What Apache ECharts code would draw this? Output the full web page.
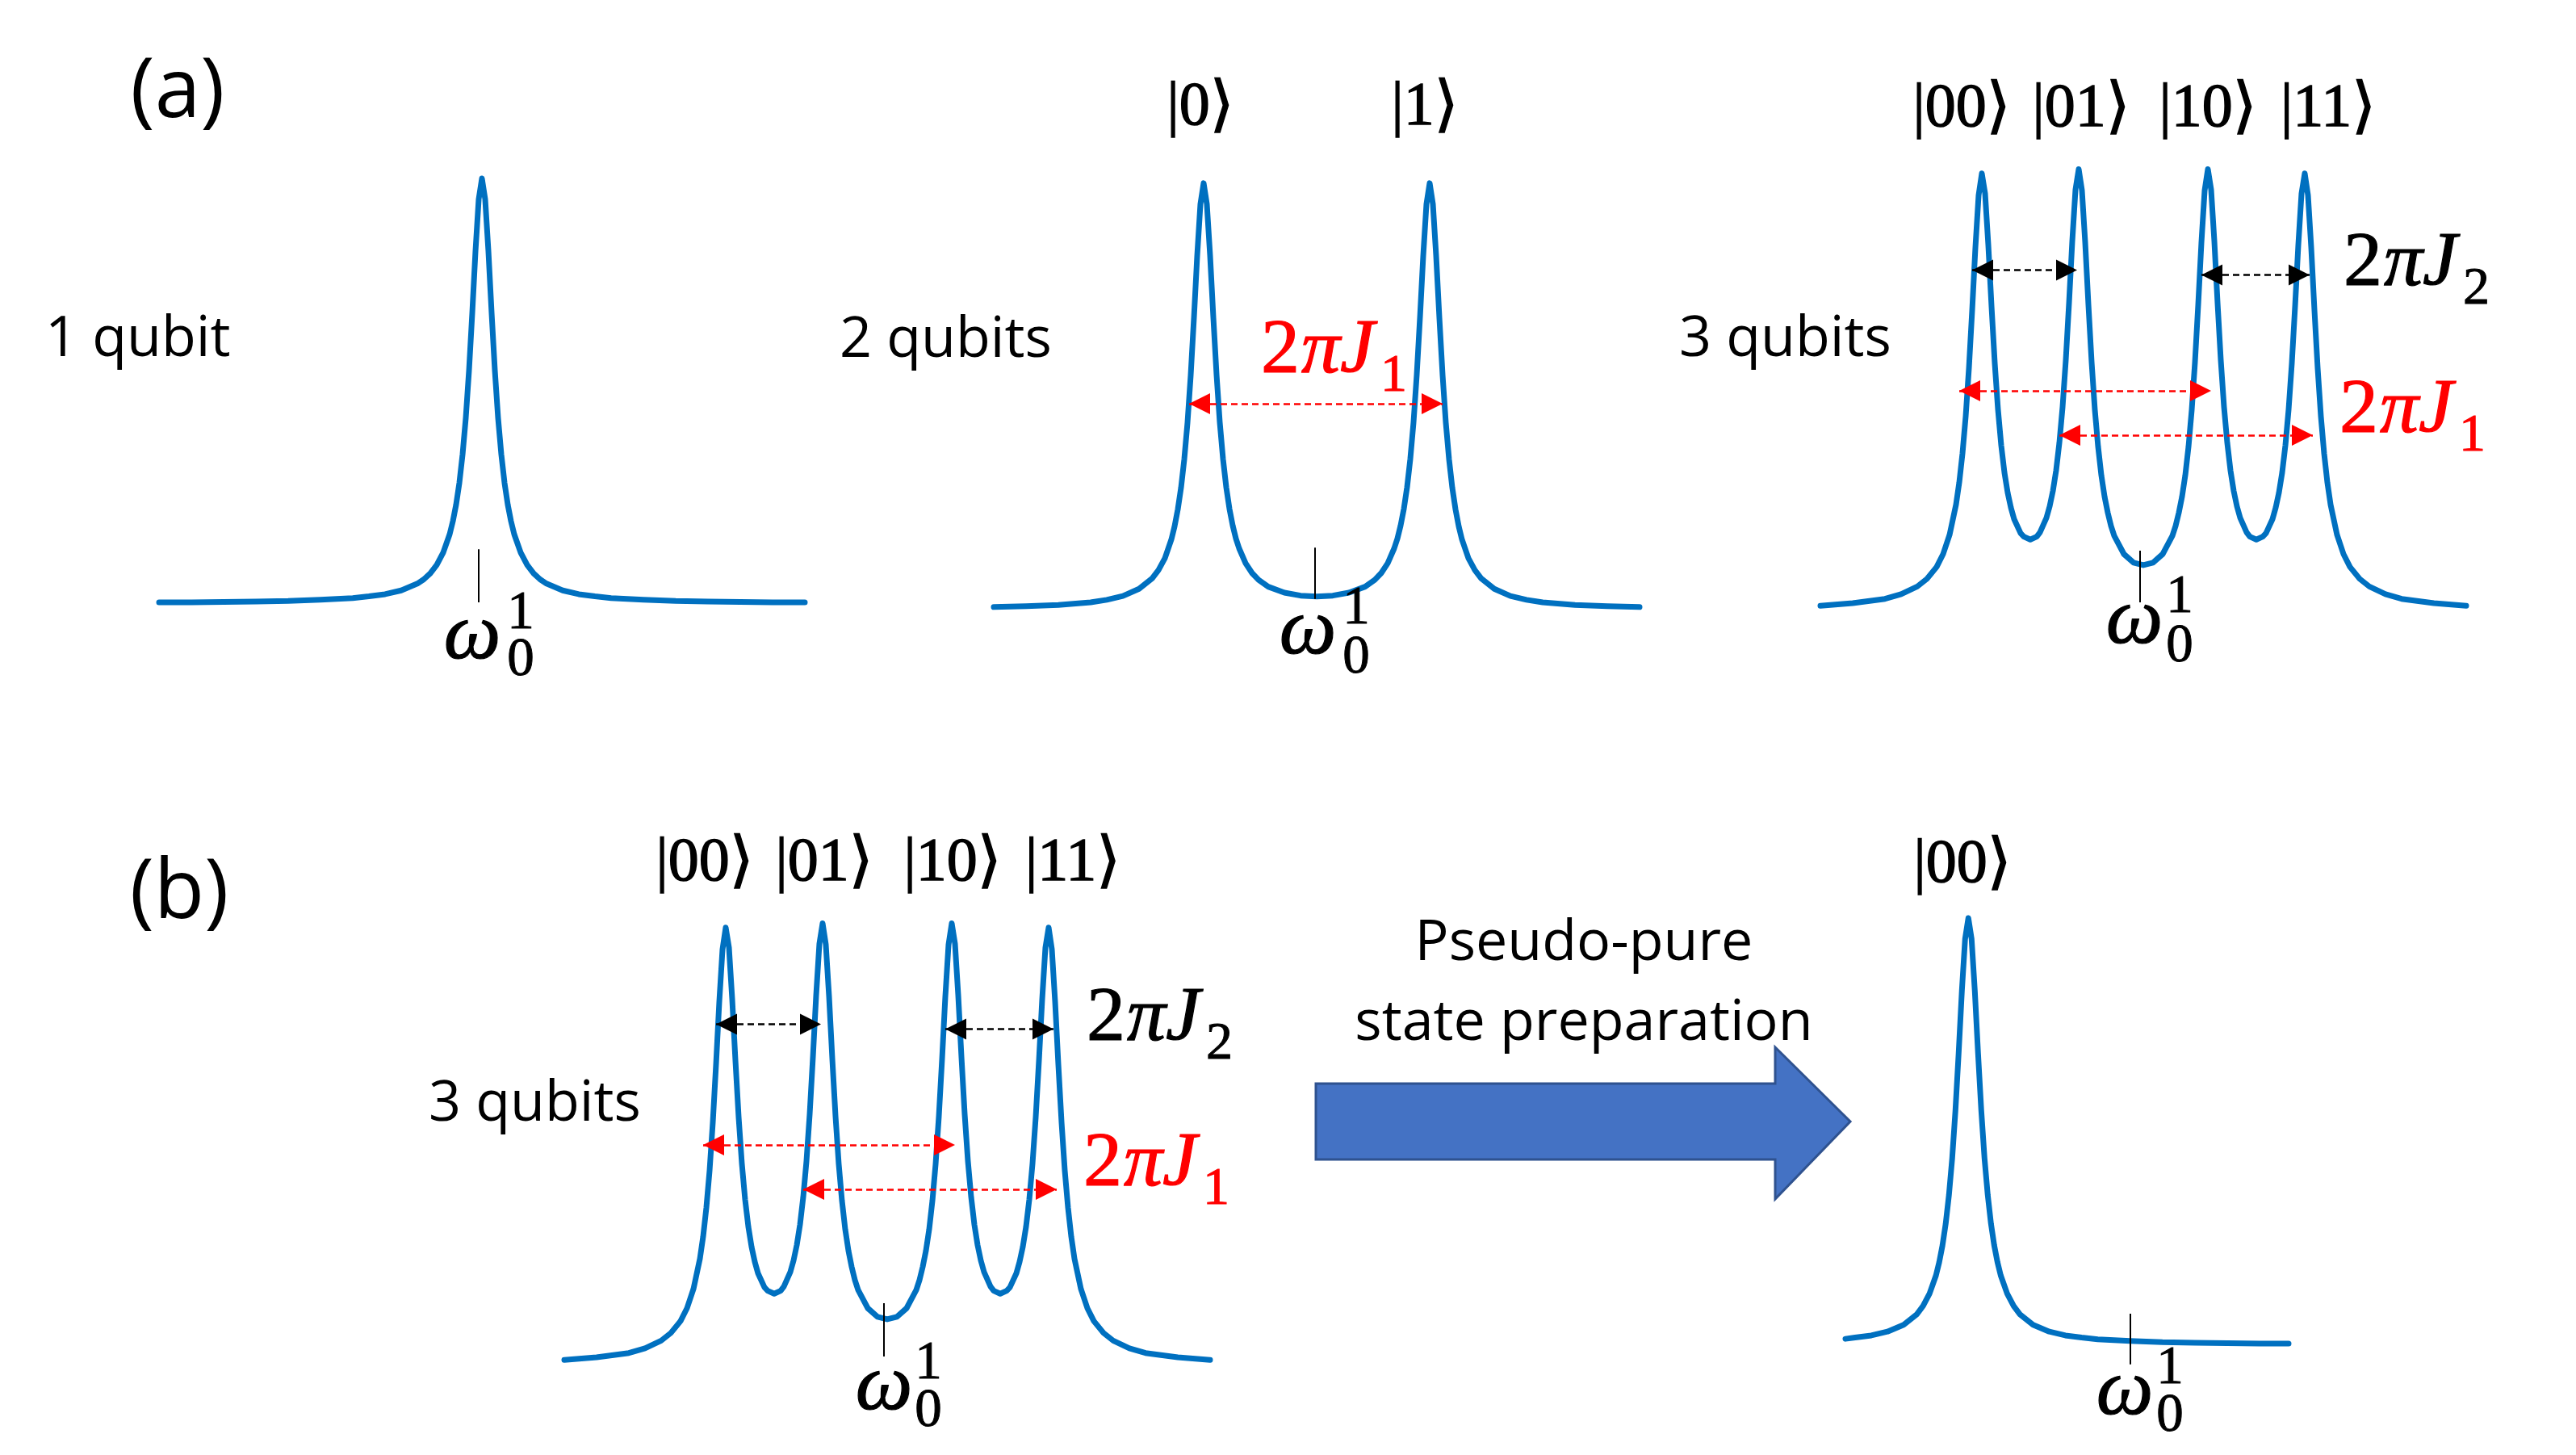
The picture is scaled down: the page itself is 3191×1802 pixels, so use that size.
<!DOCTYPE html>
<html><head><meta charset="utf-8">
<script src="https://cdn.jsdelivr.net/npm/echarts@6/dist/echarts.min.js"></script>
<style>html,body{margin:0;padding:0;background:#fff}#c{width:3191px;height:1802px}</style>
</head><body><div id="c"></div>
<script>
// ---------- data (frequency offset from omega_0, relative intensity) ----------
const oneQubit = [[-100,0.002],[-90,0.002],[-80,0.003],[-70,0.004],[-60,0.005],[-50,0.008],[-40,0.012],[-35,0.016],[-30,0.021],[-25,0.030],[-20,0.046],[-18,0.056],[-16,0.070],[-14,0.090],[-12,0.119],[-10,0.162],[-9,0.193],[-8,0.232],[-7,0.283],[-6,0.350],[-5,0.436],[-4,0.548],[-3,0.683],[-2,0.829],[-1,0.951],[0,1.000],[1,0.951],[2,0.829],[3,0.683],[4,0.548],[5,0.436],[6,0.350],[7,0.283],[8,0.232],[9,0.193],[10,0.162],[12,0.119],[14,0.090],[16,0.070],[18,0.056],[20,0.046],[25,0.030],[30,0.021],[35,0.016],[40,0.012],[50,0.008],[60,0.005],[70,0.004],[80,0.003],[90,0.002],[100,0.002]];

const twoQubits = [[-100,0.006],[-90,0.008],[-80,0.011],[-70,0.017],[-65,0.023],[-60,0.032],[-55,0.049],[-51,0.073],[-49,0.093],[-47,0.121],[-45,0.165],[-44,0.196],[-43,0.236],[-42,0.287],[-41,0.354],[-40,0.440],[-39,0.552],[-38,0.687],[-37,0.833],[-36,0.955],[-35,1.004],[-34,0.955],[-33,0.833],[-32,0.688],[-31,0.553],[-30,0.441],[-29,0.355],[-28,0.288],[-27,0.237],[-26,0.198],[-25,0.167],[-24,0.144],[-22,0.109],[-20,0.086],[-18,0.070],[-15,0.054],[-10,0.040],[-5,0.033],[0,0.031],[5,0.033],[10,0.040],[15,0.054],[18,0.070],[20,0.086],[22,0.109],[24,0.144],[25,0.167],[26,0.198],[27,0.237],[28,0.288],[29,0.355],[30,0.441],[31,0.553],[32,0.688],[33,0.833],[34,0.955],[35,1.004],[36,0.955],[37,0.833],[38,0.687],[39,0.552],[40,0.440],[41,0.354],[42,0.287],[43,0.236],[44,0.196],[45,0.165],[47,0.121],[49,0.093],[51,0.073],[55,0.049],[60,0.032],[65,0.023],[70,0.017],[80,0.011],[90,0.008],[100,0.006]];

const threeQubits = [[-100,0.013],[-90,0.019],[-80,0.029],[-75,0.040],[-70,0.058],[-67,0.076],[-64,0.104],[-62,0.134],[-60,0.179],[-58,0.250],[-57,0.302],[-56,0.370],[-55,0.457],[-54,0.570],[-53,0.706],[-52,0.853],[-51,0.976],[-50,1.027],[-49,0.980],[-48,0.859],[-47,0.715],[-46,0.582],[-45,0.473],[-44,0.389],[-43,0.325],[-42,0.278],[-41,0.243],[-40,0.216],[-38,0.183],[-37,0.175],[-35,0.168],[-33,0.175],[-32,0.185],[-30,0.219],[-29,0.246],[-28,0.282],[-27,0.330],[-26,0.395],[-25,0.479],[-24,0.589],[-23,0.723],[-22,0.868],[-21,0.989],[-20,1.037],[-19,0.987],[-18,0.865],[-17,0.719],[-16,0.584],[-15,0.472],[-14,0.386],[-13,0.319],[-12,0.269],[-11,0.231],[-10,0.200],[-9,0.177],[-6,0.134],[-3,0.114],[0,0.108],[3,0.114],[6,0.134],[9,0.177],[10,0.200],[11,0.231],[12,0.269],[13,0.319],[14,0.386],[15,0.472],[16,0.584],[17,0.719],[18,0.865],[19,0.987],[20,1.037],[21,0.989],[22,0.868],[23,0.723],[24,0.589],[25,0.479],[26,0.395],[27,0.330],[28,0.282],[29,0.246],[30,0.219],[32,0.185],[33,0.175],[35,0.168],[37,0.175],[38,0.183],[40,0.216],[41,0.243],[42,0.278],[43,0.325],[44,0.389],[45,0.473],[46,0.582],[47,0.715],[48,0.859],[49,0.980],[50,1.027],[51,0.976],[52,0.853],[53,0.706],[54,0.570],[55,0.457],[56,0.370],[57,0.302],[58,0.250],[60,0.179],[62,0.134],[64,0.104],[67,0.076],[70,0.058],[75,0.040],[80,0.029],[90,0.019],[100,0.013]];

const pseudoPure = [[-88,0.013],[-85,0.016],[-80,0.021],[-75,0.030],[-70,0.046],[-66,0.070],[-64,0.090],[-62,0.119],[-60,0.162],[-59,0.193],[-58,0.232],[-57,0.283],[-56,0.350],[-55,0.436],[-54,0.548],[-53,0.683],[-52,0.829],[-51,0.951],[-50,1.000],[-49,0.951],[-48,0.829],[-47,0.683],[-46,0.548],[-45,0.436],[-44,0.350],[-43,0.283],[-42,0.232],[-41,0.193],[-40,0.162],[-38,0.119],[-36,0.090],[-34,0.070],[-30,0.046],[-25,0.030],[-20,0.021],[-15,0.016],[-10,0.012],[0,0.008],[10,0.005],[20,0.004],[30,0.003],[40,0.002],[49,0.002]];

// coupling arrows: [from, to, level]
const j1TwoQubit = [[-39.5, 39, 0.485]];
const j2ThreeQubit = [[-53, -20.5, 0.800], [18, 51.5, 0.789]];
const j1ThreeQubit = [[-57, 21, 0.517], [-26, 52.5, 0.413]];
// omega_0 tick marks: [x, yFrom, yTo]
const omegaTicks = [[-1, 0.002, 0.127], [-0.5, 0.025, 0.146], [-1, 0.021, 0.142], [-1, 0.021, 0.146], [0, -0.047, 0.072]];

const panelLabels = ['1 qubit', '2 qubits', '3 qubits', '3 qubits'];
const kets2 = ['|0\u27E9', '|1\u27E9'];
const kets3 = ['|00\u27E9', '|01\u27E9', '|10\u27E9', '|11\u27E9'];
const stepLabels = ['Pseudo-pure', 'state preparation'];

// ---------- layout ----------
const SANS = "'Open Sans', 'Noto Sans', sans-serif";
const SERIF = "'Liberation Serif', 'DejaVu Serif', serif";
const BLUE = '#0070C0', RED = '#FF0000', BLACK = '#000000';

const panels = [
  {data: oneQubit, x: [-100, 100], grid: {left: 197, top: 168.4, width: 800, height: 631.2}, tick: omegaTicks[0], arrows: []},
  {data: twoQubits, x: [-100, 100], grid: {left: 1231, top: 176.4, width: 800, height: 631.2}, tick: omegaTicks[1], arrows: [[j1TwoQubit, RED]]},
  {data: threeQubits, x: [-100, 100], grid: {left: 2255, top: 176.2, width: 800, height: 633.6}, tick: omegaTicks[2], arrows: [[j2ThreeQubit, BLACK], [j1ThreeQubit, RED]]},
  {data: threeQubits, x: [-100, 100], grid: {left: 699, top: 1110.2, width: 800, height: 633.6}, tick: omegaTicks[3], arrows: [[j2ThreeQubit, BLACK], [j1ThreeQubit, RED]]},
  {data: pseudoPure, x: [-88, 49], grid: {left: 2286, top: 1084.2, width: 549, height: 633.6}, tick: omegaTicks[4], arrows: []}
];

function markLines(p) {
  const out = [];
  const t = p.tick;
  const tickStyle = {color: BLACK, width: 2, type: 'solid'};
  out.push([{coord: [t[0], t[1]], symbol: 'none', lineStyle: tickStyle}, {coord: [t[0], t[2]], symbol: 'none', lineStyle: tickStyle}]);
  p.arrows.forEach(function (grp) {
    const list = grp[0], color = grp[1];
    list.forEach(function (a) {
      const ls = {color: color, width: 2.5, type: [8, 5]};
      out.push([{coord: [a[0], a[2]], lineStyle: ls, itemStyle: {color: color}}, {coord: [a[1], a[2]], lineStyle: ls, itemStyle: {color: color}}]);
    });
  });
  return out;
}

function T(x, y, text, size, family, o) {
  o = o || {};
  const align = o.align || 'left';
  const st = {text: text, fontSize: size, fontFamily: family, fontStyle: o.italic ? 'italic' : 'normal',
      fill: o.color || BLACK, align: align, verticalAlign: 'middle', textAlign: align, textVerticalAlign: 'middle'};
  if (o.heavy) { st.stroke = o.color || BLACK; st.lineWidth = o.heavy; }
  return {type: 'text', x: x, y: y, silent: true, z: 20, style: st};
}

function omega(cx, cy, sx, supY, subY) {
  return [
    T(cx, cy, '\u03C9', 100, SERIF, {italic: true, align: 'center', heavy: 1.2}),
    T(sx, supY, '1', 67, SERIF, {align: 'center', heavy: 1}),
    T(sx, subY, '0', 67, SERIF, {align: 'center', heavy: 1})
  ];
}

function coupling(x, y, sub, color) {
  return [
    T(x, y, '2', 96, SERIF, {color: color, heavy: 1.2}),
    T(x + 50, y, '\u03C0J', 96, SERIF, {italic: true, color: color, heavy: 1.2}),
    T(x + 148, y + 31, sub, 66, SERIF, {color: color, heavy: 1})
  ];
}

let g = [];
g.push(T(220, 116, '(a)', 102, SANS, {align: 'center'}));
g.push(T(222, 1108, '(b)', 102, SANS, {align: 'center'}));
g.push(T(56, 421, panelLabels[0], 70, SANS));
g.push(T(1040, 422, panelLabels[1], 70, SANS));
g.push(T(2080, 421, panelLabels[2], 70, SANS));
g.push(T(531, 1368, panelLabels[3], 70, SANS));
g.push(T(1962, 1169, stepLabels[0], 70, SANS, {align: 'center'}));
g.push(T(1962, 1268, stepLabels[1], 70, SANS, {align: 'center'}));

[1487, 1765].forEach(function (x, i) { g.push(T(x, 134, kets2[i], 76, SERIF, {align: 'center', heavy: 1.4})); });
[2430, 2578, 2735, 2884].forEach(function (x, i) { g.push(T(x, 136, kets3[i], 76, SERIF, {align: 'center', heavy: 1.4})); });
[873, 1021, 1180, 1329].forEach(function (x, i) { g.push(T(x, 1070, kets3[i], 76, SERIF, {align: 'center', heavy: 1.4})); });
g.push(T(2431, 1072, kets3[0], 76, SERIF, {align: 'center', heavy: 1.4}));

g = g.concat(coupling(1562, 436, '1', RED));
g = g.concat(coupling(2903, 328, '2', BLACK));
g = g.concat(coupling(2898, 510, '1', RED));
g = g.concat(coupling(1346, 1263, '2', BLACK));
g = g.concat(coupling(1342, 1443, '1', RED));

g = g.concat(omega(585, 789, 645, 760, 818));
g = g.concat(omega(1620, 783, 1680, 754, 815));
g = g.concat(omega(2644, 770, 2700, 740, 801));
g = g.concat(omega(1095, 1719, 1150, 1689, 1748));
g = g.concat(omega(2632, 1725, 2688, 1695, 1754));

g.push({type: 'polygon', silent: true, z: 5,
  shape: {points: [[1630, 1342], [2199, 1342], [2199, 1297], [2292, 1389], [2199, 1485], [2199, 1436], [1630, 1436]]},
  style: {fill: '#4472C4', stroke: '#2F528F', lineWidth: 3}});

const option = {
  backgroundColor: '#ffffff',
  animation: false,
  grid: panels.map(function (p) { return Object.assign({show: false, containLabel: false}, p.grid); }),
  xAxis: panels.map(function (p, i) { return {type: 'value', gridIndex: i, min: p.x[0], max: p.x[1], show: false}; }),
  yAxis: panels.map(function (p, i) { return {type: 'value', gridIndex: i, min: -0.1, max: 1.1, show: false}; }),
  series: panels.map(function (p, i) {
    return {
      type: 'line', xAxisIndex: i, yAxisIndex: i, data: p.data, symbol: 'none', showSymbol: false,
      silent: true, z: 3, clip: false,
      lineStyle: {color: BLUE, width: 7, cap: 'round', join: 'round'},
      markLine: {silent: true, animation: false, label: {show: false}, emphasis: {disabled: true},
        symbol: ['triangle', 'triangle'], symbolSize: 26, symbolOffset: [[0, 13], [0, 13]],
        data: markLines(p)}
    };
  }),
  graphic: {elements: g}
};

const chart = echarts.init(document.getElementById('c'), null, {renderer: 'canvas'});
chart.setOption(option);
</script>
</body></html>
